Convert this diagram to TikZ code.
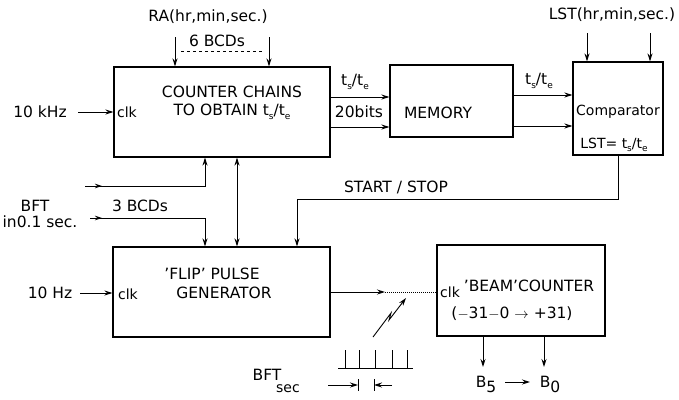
\documentclass[tikz,border=0pt]{standalone}
\usepackage{fontspec}
\setmainfont{DejaVu Sans}
\usetikzlibrary{arrows.meta,calc}
\newcommand{\tste}{t\raisebox{-0.45ex}{\small s}/t\raisebox{-0.45ex}{\small e}}
\begin{document}
\begin{tikzpicture}[x=1pt,y=-1pt,
  box/.style={draw, line width=1.1pt, inner sep=0pt},
  arr/.style={-{Stealth[length=8pt,width=5pt]}, line width=1pt},
  ln/.style={line width=1pt},
  lbl/.style={inner sep=1pt, font=\fontsize{15.5}{18}\selectfont},
  sml/.style={inner sep=1pt, font=\fontsize{14}{16}\selectfont},
  cmpf/.style={inner sep=1pt, font=\fontsize{14}{16}\selectfont}]
\useasboundingbox (0,0) rectangle (679,399);
% boxes
\node[box, minimum width=216pt, minimum height=90pt] (counter) at (222,112) {};
\node[box, minimum width=123pt, minimum height=72pt] (memory) at (451.5,101) {};
\node[box, minimum width=90pt, minimum height=93pt] (comp) at (618,108.5) {};
\node[box, minimum width=217pt, minimum height=90pt] (flip) at (221.5,292) {};
\node[box, minimum width=168pt, minimum height=91pt] (beam) at (521,290.5) {};
% texts in boxes
\node[lbl, align=center] (ctext) at (232,103) {COUNTER CHAINS\\TO OBTAIN \tste};
\node[sml] (clk1) at (127,112) {clk};
\node[lbl] (mtext) at (438,113) {MEMORY};
\node[cmpf] (cmptext) at (618,112) {Comparator};
\node[cmpf] (cmpeq) at (614,145) {LST= \tste};
\node[lbl] (ftext1) at (212,274) {'FLIP' PULSE};
\node[lbl] (ftext2) at (224,293) {GENERATOR};
\node[sml] (clk2) at (128,294) {clk};
\node[sml] (bclk) at (450,292) {clk};
\node[lbl] (btext) at (529,286) {'BEAM'COUNTER};
\node[lbl] (brange) at (512,314) {($-$31$-$0 $\rightarrow$ +31)};
% top inputs
\node[lbl] (ra) at (208,17) {RA(hr,min,sec.)};
\node[lbl] (bcd6) at (217,41) {6 BCDs};
\coordinate (ra1) at (175,37);
\coordinate (ra2) at (269,37);
\draw[arr] (ra1) -- (ra1 |- counter.north);
\draw[arr] (ra2) -- (ra2 |- counter.north);
\draw[ln, dashed] (181,51) -- (264,51);
\node[lbl] (lst) at (612,15) {LST(hr,min,sec.)};
\coordinate (l1) at (587,33);
\coordinate (l2) at (650,33);
\draw[arr] (l1) -- (l1 |- comp.north);
\draw[arr] (l2) -- (l2 |- comp.north);
% 10 kHz
\node[lbl] (khz) at (40,112) {10 kHz};
\coordinate (k1) at (78,112);
\draw[arr] (k1) -- (counter.west |- k1);
% counter -> memory
\coordinate (cm1) at (330,97);
\coordinate (cm2) at (330,127);
\draw[arr] (cm1) -- (memory.west |- cm1);
\draw[arr] (cm2) -- (memory.west |- cm2);
\node[lbl] (tste1) at (355,82) {\tste};
\node[lbl] (bits) at (359,112) {20bits};
% memory -> comparator
\coordinate (mc1) at (513,95);
\coordinate (mc2) at (513,126);
\draw[arr] (mc1) -- (comp.west |- mc1);
\draw[arr] (mc2) -- (comp.west |- mc2);
\node[lbl] (tste2) at (539,81) {\tste};
% start/stop
\coordinate (ss) at (297,199);
\draw[arr] (comp.south) |- (ss) -- (ss |- flip.north);
\node[lbl] (sstext) at (396,187) {START / STOP};
% left lines into counter & flip
\coordinate (p1) at (85,186);
\coordinate (p1b) at (205,186);
\draw[arr] (p1) -- (p1b) -- (p1b |- counter.south);
\draw[-{Stealth[length=7pt,width=4.5pt]}, ln] (p1) -- (102,186);
\coordinate (x237) at (237,200);
\draw[ln, {Stealth[length=8pt,width=5pt]}-{Stealth[length=8pt,width=5pt]}] (x237 |- counter.south) -- (x237 |- flip.north);
\node[lbl] (bft) at (35,206) {BFT};
\node[lbl] (bft2) at (40,222) {in0.1 sec.};
\node[lbl] (bcd3) at (140,206) {3 BCDs};
\coordinate (q1) at (90,218);
\coordinate (q1b) at (205,218);
\draw[arr] (q1) -- (q1b) -- (q1b |- flip.north);
\draw[-{Stealth[length=7pt,width=4.5pt]}, ln] (q1) -- (102,218);
% 10 Hz
\node[lbl] (hz) at (50,293) {10 Hz};
\coordinate (h1) at (80,293);
\draw[arr] (h1) -- (flip.west |- h1);
% flip -> beam
\coordinate (f1) at (330,292);
\coordinate (f2) at (385,292);
\draw[arr] (f1) -- (f2);
\draw[ln, densely dotted] (f2) -- (beam.west |- f2);
% lightning
\coordinate (z0) at (373,337);
\coordinate (z1) at (391,313);
\coordinate (z2) at (389,320);
\coordinate (z3) at (406,298);
\draw[arr, line width=0.9pt] (z0) -- (z1) -- (z2) -- (z3);
% pulse train
\coordinate (pt0) at (338,368);
\coordinate (pt1) at (413,368);
\draw[ln] (pt0) -- (pt1);
\foreach \x in {345,359,375,392,407} \draw[ln] (\x,368) -- (\x,350);
\node[lbl] (bftsec) at (267,375) {BFT};
\node[sml] (sec) at (288,389) {sec};
\coordinate (a1) at (328,385);
\coordinate (a1b) at (358,385);
\draw[arr] (a1) -- (a1b);
\draw[ln] (358,379) -- (358,391);
\coordinate (a2) at (392,385);
\coordinate (a2b) at (374,385);
\draw[arr] (a2) -- (a2b);
\draw[ln] (374,379) -- (374,391);
% beam outputs
\coordinate (b5) at (483,367);
\coordinate (b0) at (544,367);
\draw[arr] (b5 |- beam.south) -- (b5);
\draw[arr] (b0 |- beam.south) -- (b0);
\node[lbl] (b5t) at (486,384) {B\raisebox{-0.6ex}{5}};
\coordinate (ba1) at (505,382);
\coordinate (ba2) at (530,382);
\draw[arr] (ba1) -- (ba2);
\node[lbl] (b0t) at (550,384) {B\raisebox{-0.6ex}{0}};
\end{tikzpicture}
\end{document}
